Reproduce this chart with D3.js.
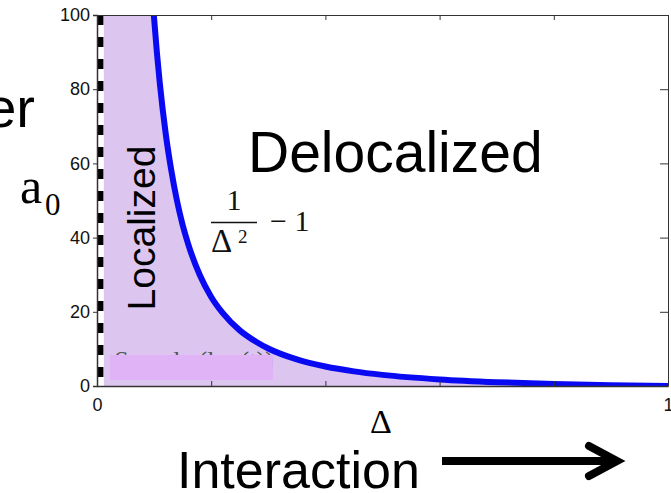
<!DOCTYPE html>
<html>
<head>
<meta charset="utf-8">
<script src="https://cdn.jsdelivr.net/npm/d3@7"></script>
<style>
  body { margin: 0; background: #fff; }
  svg { display: block; }
  .tick text { font-family: "Liberation Sans", Arial, sans-serif; font-size: 18px; fill: #111; }
  .domain, .tick line { stroke: #333; }
</style>
</head>
<body>
<div id="chart"></div>
<script>
// boundary curve a0 = 1/Delta^2 - 1
var deltaVals = [0.0995, 0.105, 0.11, 0.12, 0.13, 0.14, 0.15, 0.16, 0.18, 0.2, 0.22, 0.25, 0.28, 0.3, 0.35, 0.4, 0.45, 0.5, 0.6, 0.7, 0.8, 0.9, 1.0];
var a0Vals    = [100, 89.7, 81.6, 68.4, 58.2, 50.0, 43.4, 38.1, 29.9, 24.0, 19.7, 15.0, 11.8, 10.1, 7.16, 5.25, 3.94, 3.0, 1.78, 1.04, 0.56, 0.23, 0];

var yTicks = [0, 20, 40, 60, 80, 100];
var xTicks = [0, 0.2, 0.4, 0.6, 0.8, 1];
var xLabels = [0, 1];

var width = 671, height = 493;
var svg = d3.select("#chart").append("svg")
    .attr("width", width)
    .attr("height", height);

var x = d3.scaleLinear().domain([0, 1]).range([97, 668]);
var y = d3.scaleLinear().domain([0, 100]).range([386, 15]);

var curvePts = deltaVals.map(function(d, i){ return {d: d, a: a0Vals[i]}; });
var fillPts = [{d: 0, a: 100}].concat(curvePts);

svg.append("clipPath").attr("id", "plotclip")
   .append("rect")
   .attr("x", x(0)).attr("y", y(100))
   .attr("width", x(1) - x(0)).attr("height", y(0) - y(100));

var plot = svg.append("g").attr("clip-path", "url(#plotclip)");

// localized region
var area = d3.area()
    .x(function(p){ return x(p.d); })
    .y0(y(0))
    .y1(function(p){ return y(p.a); })
    .curve(d3.curveMonotoneX);
plot.append("path").datum(fillPts)
    .attr("d", area)
    .attr("fill", "#dcc6f0");

// white strip + dashed line at Delta ~ 0
plot.append("rect")
    .attr("x", x(0)).attr("y", y(100))
    .attr("width", x(0.012) - x(0)).attr("height", y(0) - y(100))
    .attr("fill", "#fff");
plot.append("line")
    .attr("x1", x(0.006)).attr("x2", x(0.006))
    .attr("y1", y(100)).attr("y2", y(0))
    .attr("stroke", "#000")
    .attr("stroke-width", 6)
    .attr("stroke-dasharray", "10 12");

// hidden label with patch over it
svg.append("text")
    .attr("x", x(0.03)).attr("y", y(4.5))
    .style("font-family", "Liberation Serif, serif")
    .style("font-size", "26px")
    .attr("fill", "#555")
    .text("Sample (log(t))");
svg.append("rect")
    .attr("x", x(0.0228)).attr("y", y(8.36))
    .attr("width", x(0.308) - x(0.0228))
    .attr("height", y(1.62) - y(8.36))
    .attr("fill", "#e0b2f6");

// boundary curve
var line = d3.line()
    .x(function(p){ return x(p.d); })
    .y(function(p){ return y(p.a); })
    .curve(d3.curveMonotoneX);
plot.append("path").datum(curvePts)
    .attr("d", line)
    .attr("fill", "none")
    .attr("stroke", "#0a0af2")
    .attr("stroke-width", 6);

// axes (matlab style box)
svg.append("g")
    .attr("transform", "translate(" + x(0) + ",0)")
    .call(d3.axisLeft(y).tickValues(yTicks).tickSize(4).tickPadding(3))
    .call(function(g){ g.select(".domain").attr("stroke-width", 1.5); });
svg.append("g")
    .attr("transform", "translate(0," + y(0) + ")")
    .call(d3.axisBottom(x).tickValues(xTicks).tickSize(-5).tickSizeOuter(0).tickPadding(12)
        .tickFormat(function(d){ return xLabels.indexOf(d) >= 0 ? d : ""; }))
    .call(function(g){ g.select(".domain").attr("stroke-width", 1.5); });
svg.append("g")
    .attr("transform", "translate(0," + y(100) + ")")
    .call(d3.axisTop(x).tickValues(xTicks).tickSize(-5).tickSizeOuter(0).tickFormat(""))
    .call(function(g){ g.select(".domain").attr("stroke", "#666"); });
svg.append("g")
    .attr("transform", "translate(" + x(1) + ",0)")
    .call(d3.axisRight(y).tickValues(yTicks).tickSize(-8).tickSizeOuter(0).tickFormat(""))
    .call(function(g){ g.select(".domain").attr("stroke", "#666"); });

// region labels
svg.append("text")
    .attr("x", 248).attr("y", 172)
    .style("font-family", "Liberation Sans, Arial, sans-serif")
    .style("font-size", "57px")
    .text("Delocalized");
svg.append("text")
    .attr("transform", "translate(155,228) rotate(-90)")
    .attr("text-anchor", "middle")
    .style("font-family", "Liberation Sans, Arial, sans-serif")
    .style("font-size", "39px")
    .text("Localized");

// formula 1/Delta^2 - 1
var f = svg.append("g").style("font-family", "Liberation Serif, serif").attr("fill", "#111");
f.append("text").attr("x", 234).attr("y", 210).attr("text-anchor", "middle")
    .style("font-size", "30px").text("1");
f.append("line").attr("x1", 211).attr("x2", 257).attr("y1", 222.5).attr("y2", 222.5)
    .attr("stroke", "#111").attr("stroke-width", 1.3);
f.append("text").attr("x", 211).attr("y", 252).style("font-size", "33px").text("\u0394");
f.append("text").attr("x", 238).attr("y", 243).style("font-size", "19px").text("2");
f.append("text").attr("x", 270).attr("y", 231).style("font-size", "30px").text("\u2212 1");

// axis titles
svg.append("text")
    .attr("x", 20).attr("y", 203)
    .style("font-family", "Liberation Serif, serif")
    .style("font-size", "50px")
    .text("a");
svg.append("text")
    .attr("x", 45).attr("y", 215)
    .style("font-family", "Liberation Serif, serif")
    .style("font-size", "31px")
    .text("0");
svg.append("text")
    .attr("x", 35).attr("y", 127)
    .attr("text-anchor", "end")
    .style("font-family", "Liberation Sans, Arial, sans-serif")
    .style("font-size", "56px")
    .text("Disorder");
svg.append("text")
    .attr("x", 381).attr("y", 433)
    .attr("text-anchor", "middle")
    .style("font-family", "Liberation Serif, serif")
    .style("font-size", "34px")
    .text("\u0394");
svg.append("text")
    .attr("x", 177).attr("y", 488)
    .style("font-family", "Liberation Sans, Arial, sans-serif")
    .style("font-size", "52px")
    .text("Interaction");

// arrow
svg.append("line")
    .attr("x1", 442).attr("x2", 612).attr("y1", 461).attr("y2", 461)
    .attr("stroke", "#000").attr("stroke-width", 8);
svg.append("polyline")
    .attr("points", "589,446 617,461 589,476")
    .attr("fill", "none").attr("stroke", "#000").attr("stroke-width", 8)
    .attr("stroke-linecap", "round").attr("stroke-linejoin", "miter");
</script>
</body>
</html>
